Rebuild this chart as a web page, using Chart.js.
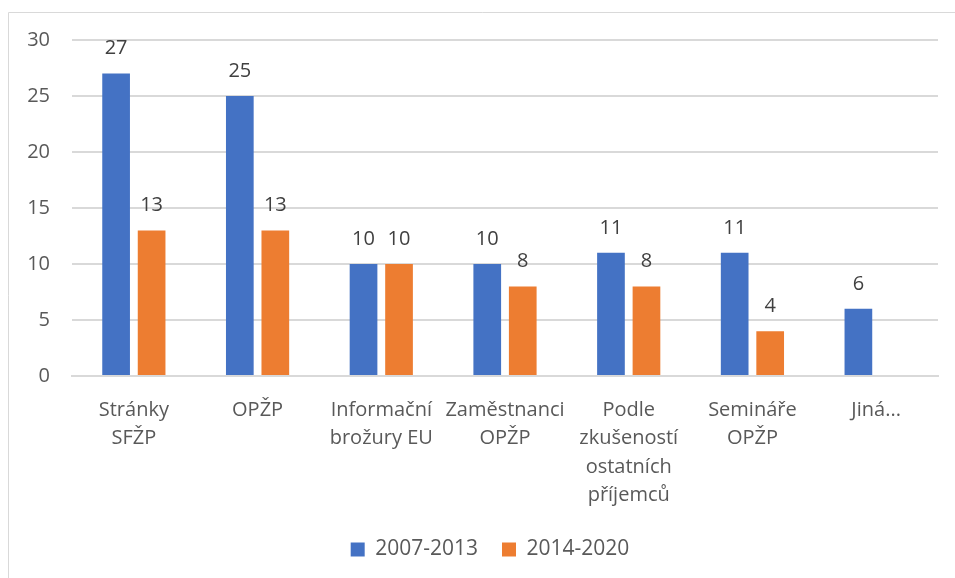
<!DOCTYPE html>
<html>
<head>
<meta charset="utf-8">
<script src="https://cdn.jsdelivr.net/npm/chart.js@4.4.1/dist/chart.umd.min.js"></script>
<style>
  html, body { margin: 0; padding: 0; background: #fff; }
  #wrap { width: 955px; height: 578px; position: relative; }
</style>
</head>
<body>
<div id="wrap"><canvas id="c" width="955" height="578"></canvas></div>
<script>
const categories = [
  ["Stránky", "SFŽP"],
  ["OPŽP"],
  ["Informační", "brožury EU"],
  ["Zaměstnanci", "OPŽP"],
  ["Podle", "zkušeností", "ostatních", "příjemců"],
  ["Semináře", "OPŽP"],
  ["Jiná..."]
];
const series2007 = [27, 25, 10, 10, 11, 11, 6];
const series2014 = [13, 13, 10, 8, 8, 4, null];
const seriesNames = ["2007-2013", "2014-2020"];
const yTicks = [0, 5, 10, 15, 20, 25, 30];

const FONT = "'Open Sans', sans-serif";
const TEXT = "#595959";

const frame = {
  id: 'frame',
  beforeDraw(chart) {
    const ctx = chart.ctx;
    ctx.save();
    ctx.strokeStyle = '#D9D9D9';
    ctx.lineWidth = 1;
    ctx.beginPath();
    ctx.moveTo(8.5, 600);
    ctx.lineTo(8.5, 12.5);
    ctx.lineTo(1000, 12.5);
    ctx.stroke();
    ctx.restore();
  }
};

const legendShift = {
  id: 'legendShift',
  afterLayout(chart) {
    if (chart.legend) {
      chart.legend.left += 21;
      chart.legend.right += 21;
    }
  }
};

const valueLabels = {
  id: 'valueLabels',
  afterDatasetsDraw(chart) {
    const ctx = chart.ctx;
    ctx.save();
    ctx.font = "20px " + FONT;
    ctx.fillStyle = "#404040";
    ctx.textAlign = 'center';
    ctx.textBaseline = 'middle';
    chart.data.datasets.forEach((ds, i) => {
      const meta = chart.getDatasetMeta(i);
      meta.data.forEach((bar, j) => {
        const v = ds.data[j];
        if (v === null || v === undefined) return;
        ctx.fillText(String(v), bar.x, bar.y - 25);
      });
    });
    ctx.restore();
  }
};

new Chart(document.getElementById('c'), {
  type: 'bar',
  data: {
    labels: categories,
    datasets: [
      { label: seriesNames[0], data: series2007, backgroundColor: '#4472C4',
        categoryPercentage: 0.574, barPercentage: 0.78 },
      { label: seriesNames[1], data: series2014, backgroundColor: '#ED7D31',
        categoryPercentage: 0.574, barPercentage: 0.78 }
    ]
  },
  options: {
    responsive: false,
    animation: false,
    devicePixelRatio: 1,
    layout: { padding: { left: 0, right: 17, top: 40, bottom: 8 } },
    plugins: {
      tooltip: { enabled: false },
      legend: {
        position: 'bottom',
        labels: {
          font: { family: FONT, size: 21 },
          color: TEXT,
          boxWidth: 14,
          boxHeight: 14,
          padding: 24
        }
      }
    },
    scales: {
      x: {
        grid: { display: false },
        border: { color: '#D9D9D9', width: 2 },
        ticks: {
          font: { family: FONT, size: 20, lineHeight: 1.42 },
          color: TEXT,
          maxRotation: 0,
          autoSkip: false,
          padding: 12
        },
        afterFit(s) { s.height = 139; }
      },
      y: {
        min: 0, max: 30,
        afterBuildTicks(s) { s.ticks = yTicks.map(v => ({ value: v })); },
        grid: { color: '#D9D9D9', lineWidth: 2, drawTicks: false },
        border: { display: false },
        ticks: {
          font: { family: FONT, size: 20 },
          color: TEXT,
          padding: 22
        },
        afterFit(s) { s.width = 72; }
      }
    }
  },
  plugins: [frame, legendShift, valueLabels]
});
</script>
</body>
</html>
